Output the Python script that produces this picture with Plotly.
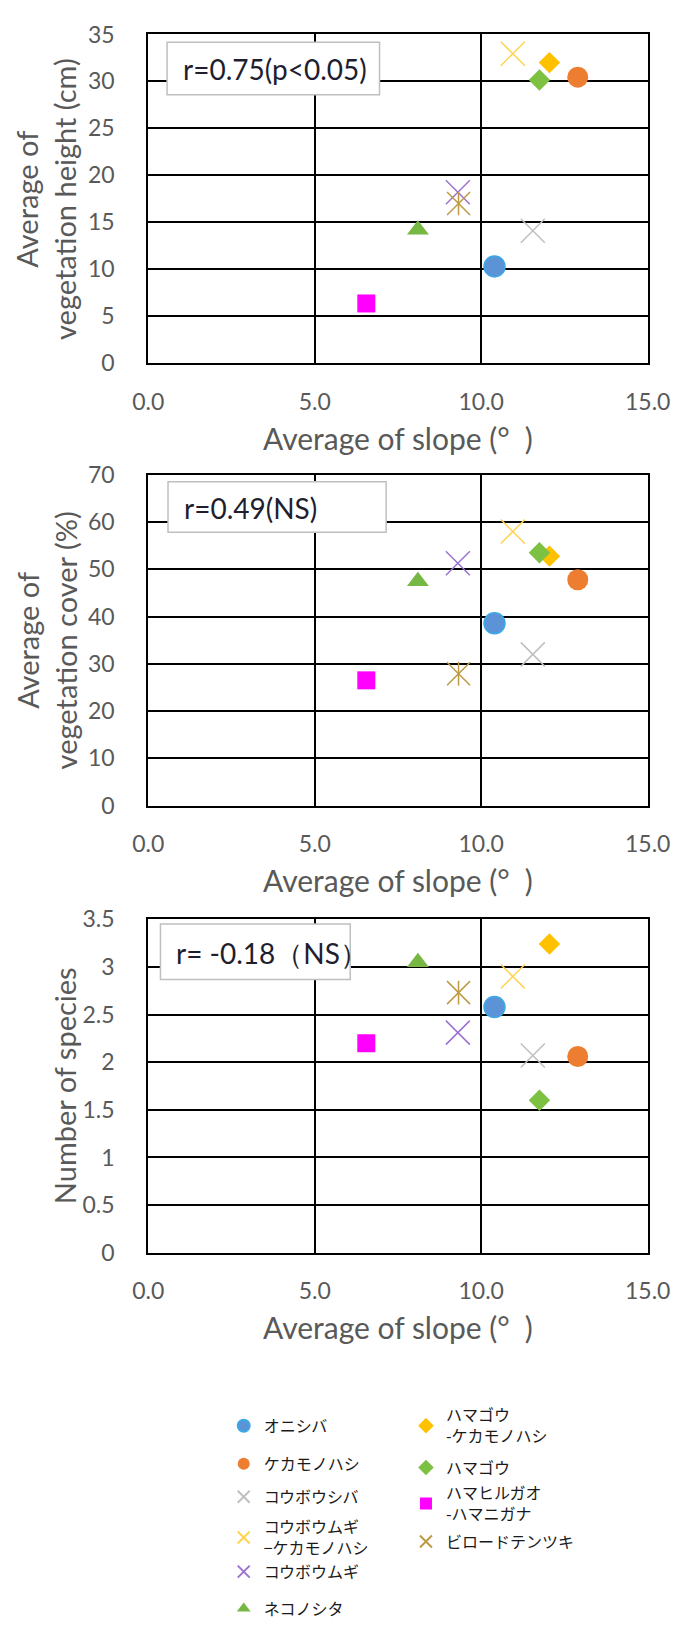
import plotly.graph_objects as go

# Species (community types) and their plot averages
species = [
    "オニシバ", "ケカモノハシ", "コウボウシバ", "コウボウムギ<br>−ケカモノハシ",
    "コウボウムギ", "ネコノシタ", "ハマゴウ<br>-ケカモノハシ", "ハマゴウ",
    "ハマヒルガオ<br>-ハマニガナ", "ビロードテンツキ",
]
slope = [10.4, 12.9, 11.55, 10.95, 9.3, 8.1, 12.05, 11.75, 6.55, 9.32]
veg_height = [10.3, 30.45, 14.1, 32.95, 18.2, 14.2, 32.0, 30.15, 6.35, 17.0]
veg_cover = [38.6, 47.8, 32.0, 58.0, 51.3, 47.5, 52.8, 53.5, 26.5, 27.9]
n_species = [2.58, 2.06, 2.07, 2.9, 2.31, 3.05, 3.24, 1.6, 2.2, 2.73]

r_labels = ["r=0.75(p<0.05)", "r=0.49(NS)", "r= -0.18（NS）"]
y_titles = ["Average of<br>vegetation height (cm)", "Average of<br>vegetation cover (%)", "Number of species"]
x_title = "Average of slope (°\u2002)"
y_ranges = [(0, 35, 5), (0, 70, 10), (0, 3.5, 0.5)]

# marker styling per species: (symbol, size, fill colour, line colour, line width)
styles = [
    ("circle", 21, "#5B93D6", "#3DA8E6", 1.5),
    ("circle", 21, "#ED7D31", "#ED7D31", 0),
    ("x-thin", 24, "#BFBFBF", "#BFBFBF", 1.5),
    ("x-thin", 24, "#FFD34F", "#FFD34F", 1.5),
    ("x-thin", 24, "#9B72CF", "#9B72CF", 1.5),
    ("triangle-up", 19, "#76B843", "#76B843", 0),
    ("diamond", 16.5, "#FFC000", "#FFC000", 0),
    ("diamond", 16.5, "#7DC142", "#7DC142", 0),
    ("square", 18, "#FF00FF", "#FF00FF", 0),
    ("x-thin", 23, "#BE9A45", "#BE9A45", 1.5),
]

W, H = 699, 1626
px_x = lambda p: p / W
px_y = lambda p: 1 - p / H

# plot areas in pixels: (left, right, top, bottom)
panels = [(140, 669, 20, 358), (140, 669, 473, 813), (140, 669, 930, 1273)]
boxes = [(160, 385, 28, 82), (161, 392, 480, 532), (153, 354, 935, 992)]
text_x = [175, 176, 167]
y_title_x = [32, 32, 51]

# legend anchor positions: (text left px, anchor y px)
legend_pos = [
    (260, 1451), (260, 1490), (260, 1524), (260, 1566), (260, 1601), (260, 1639),
    (453, 1451), (453, 1494), (453, 1531), (453, 1570),
]

tick_font = dict(family="Lato", size=23, color="#595959")
x_title_font = dict(family="Lato", size=30, color="#595959")
y_title_font = dict(family="Lato", size=29, color="#595959")

fig = go.Figure()
series = [veg_height, veg_cover, n_species]
for k, yvals in enumerate(series):
    xa = "x" if k == 0 else f"x{k+1}"
    ya = "y" if k == 0 else f"y{k+1}"
    for i, name in enumerate(species):
        sym, size, fill, line, lw = styles[i]
        leg = "legend" if i == 0 else f"legend{i+1}"
        fig.add_trace(go.Scatter(
            x=[slope[i]], y=[yvals[i]], mode="markers", name=name,
            xaxis=xa, yaxis=ya, legendgroup=name, legend=leg,
            showlegend=(k == 0),
            marker=dict(symbol=sym, size=size, color=fill,
                        line=dict(color=line, width=lw)),
        ))
        if i == 9:
            # vertical stroke completing the star marker
            fig.add_trace(go.Scatter(
                x=[slope[i]], y=[yvals[i]], mode="markers", name=name,
                xaxis=xa, yaxis=ya, legendgroup=name, showlegend=False,
                marker=dict(symbol="line-ns", size=17, color=fill,
                            line=dict(color=line, width=lw)),
            ))

layout = dict(
    width=W, height=H, margin=dict(l=0, r=0, t=0, b=0),
    paper_bgcolor="white", plot_bgcolor="white",
    shapes=[], annotations=[],
)

for k, (l, r, t, b) in enumerate(panels):
    sfx = "" if k == 0 else str(k + 1)
    y0, y1, dy = y_ranges[k]
    layout["xaxis" + sfx] = dict(
        domain=[px_x(l), px_x(r)], range=[0, 15], tick0=0, dtick=5, tickformat=".1f",
        anchor="y" + sfx, showgrid=True, gridcolor="black", gridwidth=1.5,
        showline=True, linecolor="black", linewidth=2, mirror=True, zeroline=False,
        ticks="", ticklabelstandoff=17, tickfont=tick_font,
        title=dict(text=x_title, font=x_title_font, standoff=15),
    )
    layout["yaxis" + sfx] = dict(
        domain=[px_y(b), px_y(t)], range=[y0, y1], tick0=0, dtick=dy,
        anchor="x" + sfx, showgrid=True, gridcolor="black", gridwidth=2,
        showline=True, linecolor="black", linewidth=2, mirror=True, zeroline=False,
        ticks="", ticklabelstandoff=27, tickfont=tick_font,
    )
    # rotated y-axis title
    layout["annotations"].append(dict(
        text=y_titles[k], xref="paper", yref="paper", textangle=-90,
        x=px_x(y_title_x[k]), y=px_y((t + b) / 2), xanchor="center", yanchor="middle",
        showarrow=False, font=y_title_font,
    ))
    bx0, bx1, by0, by1 = boxes[k]
    layout["shapes"].append(dict(
        type="rect", xref="paper", yref="paper",
        x0=px_x(bx0), x1=px_x(bx1), y0=px_y(by1), y1=px_y(by0),
        line=dict(color="#BFBFBF", width=1.5), fillcolor="white", layer="above",
    ))
    layout["annotations"].append(dict(
        text=r_labels[k], xref="paper", yref="paper",
        x=px_x(text_x[k]), y=px_y((by0 + by1) / 2 + 1), xanchor="left", yanchor="middle",
        showarrow=False, font=dict(family="Lato", size=28, color="#1E1E2E"),
    ))

for i, (tx, ty) in enumerate(legend_pos):
    key = "legend" if i == 0 else f"legend{i+1}"
    layout[key] = dict(
        x=px_x(tx - 40), y=px_y(ty), xanchor="left", yanchor="middle",
        bgcolor="rgba(0,0,0,0)", borderwidth=0, itemsizing="constant",
        font=dict(family="Noto Sans CJK JP", size=16, color="#1a1a1a"),
    )

fig.update_layout(**layout)
fig.write_html("out.html")
